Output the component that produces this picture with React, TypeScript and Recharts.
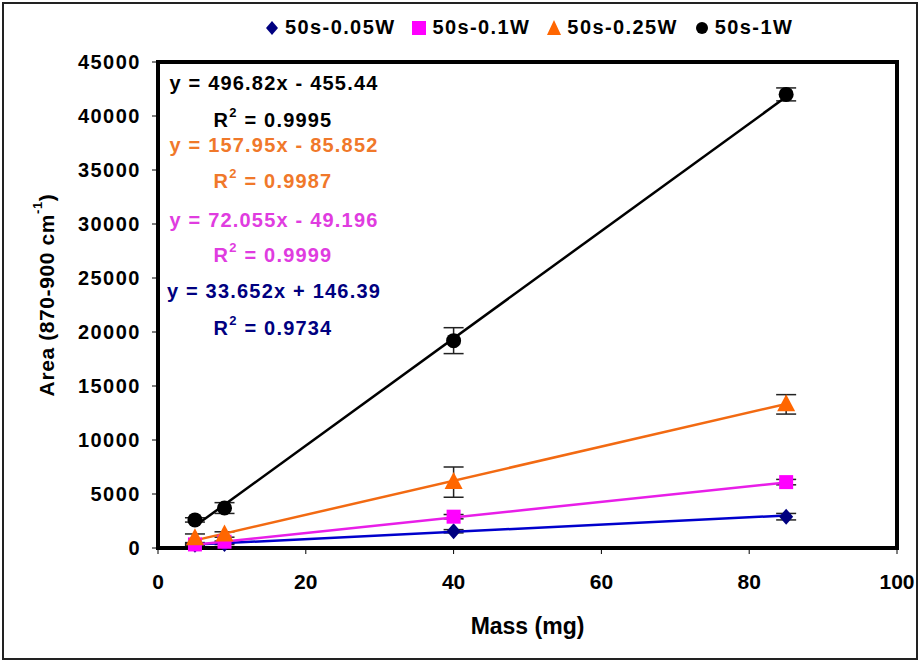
import { ScatterChart, Scatter, XAxis, YAxis, ErrorBar, ReferenceArea } from 'recharts'

// measured mass (mg), shared by every series
const MASS = [5, 9, 40, 85]

const SERIES_NAMES = ['50s-0.05W', '50s-0.1W', '50s-0.25W', '50s-1W']
const AREA_005W = [300, 380, 1550, 2900]
const ERR_005W = [60, 60, 150, 300]
const AREA_01W = [330, 580, 2900, 6100]
const ERR_01W = [50, 60, 200, 250]
const AREA_025W = [900, 1250, 6100, 13300]
const ERR_025W = [400, 250, 1400, 900]
const AREA_1W = [2600, 3700, 19200, 42000]
const ERR_1W = [200, 500, 1200, 600]

// linear fits shown on the chart
const SLOPES = [33.652, 72.055, 157.95, 496.82]
const INTERCEPTS = [146.39, -49.196, -85.852, -455.44]
const EQUATIONS = ['y = 33.652x + 146.39', 'y = 72.055x - 49.196', 'y = 157.95x - 85.852', 'y = 496.82x - 455.44']
const R2 = ['0.9734', '0.9999', '0.9987', '0.9995']

const X_TICKS = [0, 20, 40, 60, 80, 100]
const Y_TICKS = [0, 5000, 10000, 15000, 20000, 25000, 30000, 35000, 40000, 45000]

const MARKER_COLORS = ['#000080', '#ff00ff', '#ff6600', '#000000']
const LINE_COLORS = ['#0000cc', '#e81ee8', '#f26a12', '#000000']
const TEXT_COLORS = ['#000080', '#e03ce0', '#f0782a', '#000000']

const FONT = '"Liberation Sans", Arial, sans-serif'

const build = (vals: number[], errs: number[]) =>
  MASS.map((x, i) => ({ x, y: vals[i], err: errs[i] }))

const points = [
  build(AREA_005W, ERR_005W),
  build(AREA_01W, ERR_01W),
  build(AREA_025W, ERR_025W),
  build(AREA_1W, ERR_1W),
]

const fitLines = SLOPES.map((m, i) => {
  const x0 = MASS[0]
  const x1 = MASS[MASS.length - 1]
  return [
    { x: x0, y: m * x0 + INTERCEPTS[i] },
    { x: x1, y: m * x1 + INTERCEPTS[i] },
  ]
})

const Diamond = (p: any) => (
  <path d={`M${p.cx},${p.cy - 8}L${p.cx + 7},${p.cy}L${p.cx},${p.cy + 8}L${p.cx - 7},${p.cy}Z`} fill={p.fill} />
)
const Square = (p: any) => <rect x={p.cx - 7} y={p.cy - 7} width={14} height={14} fill={p.fill} />
const Triangle = (p: any) => (
  <path d={`M${p.cx},${p.cy - 10}L${p.cx + 9},${p.cy + 7}L${p.cx - 9},${p.cy + 7}Z`} fill={p.fill} />
)
const Dot = (p: any) => <circle cx={p.cx} cy={p.cy} r={7.5} fill={p.fill} />
const SHAPES = [Diamond, Square, Triangle, Dot]
const NoShape = () => <g />

const YLabel = (props: any) => {
  const vb = props.viewBox
  const cx = vb.x + 28
  const cy = vb.y + vb.height / 2 - 10
  return (
    <text x={cx} y={cy} transform={`rotate(-90 ${cx} ${cy})`} textAnchor="middle" dominantBaseline="middle"
      fontFamily={FONT} fontWeight="bold" fontSize={21} letterSpacing={0.6} fill="#000">
      Area (870-900 cm<tspan dy={-9} fontSize={13}>-1</tspan><tspan dy={9}>)</tspan>
    </text>
  )
}

const XLabel = (props: any) => {
  const vb = props.viewBox
  return (
    <text x={vb.x + vb.width / 2} y={vb.y + 80} textAnchor="middle" dominantBaseline="middle"
      fontFamily={FONT} fontWeight="bold" fontSize={23} fill="#000">
      Mass (mg)
    </text>
  )
}

function LegendRow() {
  const icons = [
    <path d="M7,2L13,9L7,16L1,9Z" fill={MARKER_COLORS[0]} />,
    <rect x={0} y={2} width={14} height={14} fill={MARKER_COLORS[1]} />,
    <path d="M7,1L14,16L0,16Z" fill={MARKER_COLORS[2]} />,
    <circle cx={7} cy={9} r={6} fill={MARKER_COLORS[3]} />,
  ]
  return (
    <div style={{ position: 'absolute', left: 265, top: 16, display: 'flex', alignItems: 'center', gap: 17 }}>
      {SERIES_NAMES.map((name, i) => (
        <div key={name} style={{ display: 'flex', alignItems: 'center', gap: 6 }}>
          <svg width={14} height={18}>{icons[i]}</svg>
          <span style={{ fontFamily: FONT, fontWeight: 'bold', fontSize: 20, letterSpacing: 1.4, color: '#000' }}>{name}</span>
        </div>
      ))}
    </div>
  )
}

// equation block, top to bottom: 1W, 0.25W, 0.1W, 0.05W
const EQ_ROWS = [3, 2, 1, 0]
const EQ_Y = [85, 147, 222, 293]
const R2_Y = [122, 183, 257, 330]

function Equations() {
  return (
    <svg width={920} height={662} style={{ position: 'absolute', left: 0, top: 0, pointerEvents: 'none' }}>
      {EQ_ROWS.map((s, k) => (
        <g key={s} fontFamily={FONT} fontWeight="bold" fill={TEXT_COLORS[s]} letterSpacing={1.2}>
          <text x={274} y={EQ_Y[k]} textAnchor="middle" dominantBaseline="middle" fontSize={20}>{EQUATIONS[s]}</text>
          <text x={273} y={R2_Y[k]} textAnchor="middle" dominantBaseline="middle" fontSize={20}>
            R<tspan dy={-8} fontSize={13}>2</tspan><tspan dy={8}> = {R2[s]}</tspan>
          </text>
        </g>
      ))}
    </svg>
  )
}

export default function App() {
  return (
    <div style={{ position: 'absolute', left: 0, top: 0, width: 920, height: 662, background: '#fff' }}>
      <div style={{ position: 'absolute', left: 2, top: 2, width: 912, height: 654, border: '2px solid #222' }} />
      <ScatterChart width={920} height={662} margin={{ top: 62, right: 23, left: 20, bottom: 10 }}>
        <XAxis type="number" dataKey="x" domain={[0, 100]} ticks={X_TICKS} height={104}
          axisLine={false} tickLine={{ stroke: '#000' }} tickSize={6} tickMargin={20}
          tick={{ fontFamily: FONT, fontWeight: 'bold', fontSize: 21, fill: '#000' }}
          label={<XLabel />} />
        <YAxis type="number" dataKey="y" domain={[0, 45000]} ticks={Y_TICKS} width={138}
          axisLine={false} tickLine={{ stroke: '#000' }} tickSize={6} tickMargin={11}
          tick={{ fontFamily: FONT, fontWeight: 'bold', fontSize: 20, letterSpacing: 1.5, fill: '#000' }}
          label={<YLabel />} />
        <ReferenceArea x1={0} x2={100} y1={0} y2={45000} fill="none" stroke="#000" strokeWidth={4} />
        {fitLines.map((d, i) => (
          <Scatter key={`fit${i}`} data={d} line={{ stroke: LINE_COLORS[i], strokeWidth: 2.5 }}
            shape={NoShape} isAnimationActive={false} legendType="none" />
        ))}
        {points.map((d, i) => (
          <Scatter key={SERIES_NAMES[i]} name={SERIES_NAMES[i]} data={d} fill={MARKER_COLORS[i]}
            shape={SHAPES[i]} isAnimationActive={false}>
            <ErrorBar dataKey="err" direction="y" width={10} stroke="#222" strokeWidth={1.5} isAnimationActive={false} />
          </Scatter>
        ))}
      </ScatterChart>
      <Equations />
      <LegendRow />
    </div>
  )
}
